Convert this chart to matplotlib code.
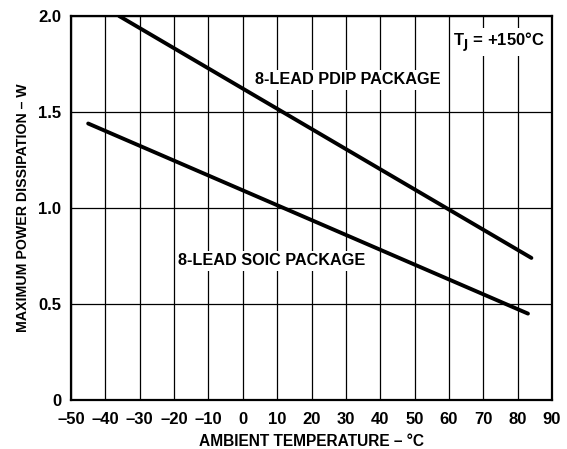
import matplotlib
matplotlib.use("Agg")
import matplotlib.pyplot as plt

plt.rcParams["font.family"] = ["Liberation Sans", "DejaVu Sans"]
plt.rcParams["font.weight"] = "bold"

# ── data ──
pdip_temp = [-36, 84]
pdip_power = [2.0, 0.74]
soic_temp = [-45, 83]
soic_power = [1.44, 0.45]

x_ticks = list(range(-50, 91, 10))
y_ticks = [0, 0.5, 1.0, 1.5, 2.0]
y_tick_labels = ["0", "0.5", "1.0", "1.5", "2.0"]

fig = plt.figure(figsize=(5.67, 4.49), dpi=100)
ax = fig.add_axes([71 / 567, 49 / 449, 481 / 567, 384 / 449])

ax.set_xlim(-50, 90)
ax.set_ylim(0, 2.0)
ax.set_xticks(x_ticks)
ax.set_xticklabels([f"{t}".replace("-", "\u2013") for t in x_ticks])
ax.set_yticks(y_ticks)
ax.set_yticklabels(y_tick_labels)
ax.tick_params(length=0, labelsize=12)
ax.tick_params(axis="x", pad=9)
ax.tick_params(axis="y", pad=7)
for lab in ax.get_xticklabels() + ax.get_yticklabels():
    lab.set_fontweight("bold")

ax.grid(True, color="black", linewidth=0.9)
ax.set_axisbelow(True)
for sp in ax.spines.values():
    sp.set_linewidth(1.6)

ax.plot(pdip_temp, pdip_power, color="black", linewidth=2.8, solid_capstyle="round", zorder=3)
ax.plot(soic_temp, soic_power, color="black", linewidth=2.8, solid_capstyle="round", zorder=3)

box = dict(facecolor="white", edgecolor="none", pad=1.5)
ax.text(30.6, 1.667, "8-LEAD PDIP PACKAGE", ha="center", va="center",
        fontsize=11.7, fontweight="bold", bbox=box, zorder=4)
ax.text(8.5, 0.724, "8-LEAD SOIC PACKAGE", ha="center", va="center",
        fontsize=11.7, fontweight="bold", bbox=box, zorder=4)
ax.text(74.4, 1.865, r"T$_\mathbf{J}$ = +150°C", ha="center", va="center",
        fontsize=12, fontweight="bold", bbox=box, zorder=4)

ax.set_xlabel("AMBIENT TEMPERATURE \u2013 °C", fontsize=11.2, fontweight="bold", labelpad=5)
ax.set_ylabel("MAXIMUM POWER DISSIPATION \u2013 W", fontsize=10.2, fontweight="bold", labelpad=6)

fig.savefig("out.png", dpi=100)
